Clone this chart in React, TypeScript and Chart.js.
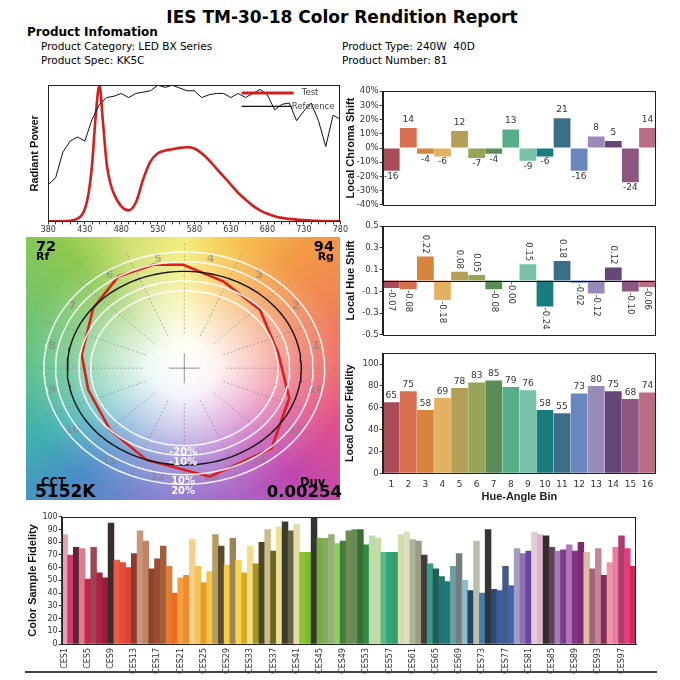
import React, { useEffect, useRef } from "react";
import { Chart, registerables } from "chart.js";

Chart.register(...registerables);
Chart.defaults.font.family = "'DejaVu Sans', sans-serif";
Chart.defaults.color = "#333";

// ---------------- data ----------------
const binLabels = ["1", "2", "3", "4", "5", "6", "7", "8", "9", "10", "11", "12", "13", "14", "15", "16"];
const binColors = [
  "#a84c58", "#d8704f", "#d7843c", "#e2b261", "#b39f55", "#97a457", "#5b8c57", "#55ae87",
  "#76c1a8", "#1a7c7c", "#3d6e88", "#6887bf", "#9a8ab8", "#664676", "#8d5581", "#ba6d84",
];
const chromaShift = [-16, 14, -4, -6, 12, -7, -4, 13, -9, -6, 21, -16, 8, 5, -24, 14];
const hueShift = [-0.07, -0.08, 0.22, -0.18, 0.08, 0.05, -0.08, -0.003, 0.15, -0.24, 0.18, -0.02, -0.12, 0.12, -0.1, -0.06];
const localFidelity = [65, 75, 58, 69, 78, 83, 85, 79, 76, 58, 55, 73, 80, 75, 68, 74];

const refWavelengths = [
  380, 390, 400, 410, 420, 430, 440, 450, 460, 470, 480, 490, 500, 510, 520, 530, 540, 550, 560, 570, 580,
  590, 600, 610, 620, 630, 640, 650, 660, 670, 680, 690, 700, 710, 720, 730, 740, 750, 760, 770, 780,
];
const refPower = [
  0.27, 0.32, 0.51, 0.59, 0.62, 0.59, 0.75, 0.86, 0.91, 0.92, 0.94, 0.91, 0.94, 0.95, 0.96, 1.0, 0.985, 1.0, 0.98, 0.96, 0.96,
  0.91, 0.93, 0.94, 0.94, 0.91, 0.94, 0.91, 0.94, 0.97, 0.93, 0.82, 0.86, 0.87, 0.74, 0.81, 0.87, 0.74, 0.55, 0.78, 0.75,
];
const testWavelengths = [
  380, 400, 410, 420, 425, 430, 435, 440, 445, 450, 455, 460, 465, 470, 480, 490, 500, 510, 520, 530, 540,
  550, 560, 570, 580, 590, 600, 610, 620, 630, 640, 650, 660, 670, 680, 690, 700, 720, 740, 760, 780,
];
const testPower = [
  0, 0, 0.003, 0.02, 0.04, 0.09, 0.2, 0.42, 0.78, 1.0, 0.72, 0.42, 0.28, 0.2, 0.11, 0.08, 0.14, 0.31, 0.44, 0.5, 0.52,
  0.53, 0.54, 0.545, 0.535, 0.5, 0.45, 0.39, 0.33, 0.27, 0.21, 0.16, 0.115, 0.08, 0.055, 0.037, 0.025, 0.012, 0.005, 0.002, 0,
];
const spectrumTickStart = 380;
const spectrumLabelStep = 50;

// colour vector graphic: test polygon vertices (normalised a', b')
const testX = [0.803, 0.647, 0.333, -0.009, -0.265, -0.564, -0.778, -0.877, -0.821, -0.635, -0.322, 0.219, 0.746, 0.897];
const testY = [0.155, 0.603, 0.897, 1.069, 1.069, 0.948, 0.621, 0.138, -0.224, -0.638, -0.948, -1.121, -0.828, -0.31];
const ringScales = [0.8, 0.9, 1.1, 1.2];
const ringLabels = ["-20%", "-10%", "10%", "20%"];
const hueAngles = [0, 45, 70, 90, 115, 135, 180, 205, 225, 260, 290, 315, 340, 360];
const hueColors = [
  "#ee6a6a", "#f29a45", "#f6c850", "#f4ec78", "#d0e070", "#8ec850", "#5cc08a", "#40b0b0",
  "#4a8cc8", "#8880d0", "#a868c8", "#c048b0", "#e0508a", "#ee6a6a",
];

const cesFidelity = [
  86, 70, 76, 75, 51, 76, 56, 52, 95, 66, 64, 60, 71, 89, 81, 59, 67, 77, 61, 40,
  52, 54, 82, 61, 48, 57, 86, 77, 62, 83, 66, 56, 77, 63, 80, 90, 73, 92, 96, 89,
  94, 72, 72, 99, 83, 83, 86, 79, 81, 89, 90, 90, 78, 85, 83, 72, 72, 72, 86, 88,
  82, 81, 70, 63, 59, 53, 49, 61, 71, 50, 42, 81, 40, 90, 43, 42, 61, 46, 75, 71,
  73, 88, 86, 85, 76, 73, 74, 78, 73, 80, 72, 59, 75, 54, 64, 76, 85, 75, 61,
];
const cesColors = [
  "#eaa0b4", "#d03c6c", "#5c2434", "#e07a8a", "#c0284c", "#a04454", "#aa2444", "#9c1c3c", "#3c2c2c", "#ec5c44",
  "#e44c3c", "#dc4434", "#8c3c2c", "#c8987c", "#c08464", "#8c442c", "#9c4c34", "#a0603c", "#e47c34", "#ec6c24",
  "#f4a040", "#f08c2c", "#f8d08c", "#f4c454", "#e49c24", "#f4c444", "#b49c64", "#5c4c2c", "#f4cc44", "#9c8454",
  "#f8d454", "#d4ac24", "#f4dc84", "#a49424", "#4c4424", "#ccbc8c", "#6c6424", "#ece094", "#3c3c2c", "#646444",
  "#e4dca4", "#8cc434", "#7cbc2c", "#343430", "#74ac44", "#84ac5c", "#9cac7c", "#8ccc64", "#447c3c", "#6c8c54",
  "#648c54", "#3c6c34", "#2c8c44", "#bcdcac", "#c4dca4", "#54bc84", "#34a474", "#349c6c", "#d4dcb4", "#dce0bc",
  "#acb49c", "#9c9c84", "#443c34", "#349c8c", "#245c54", "#247474", "#1c7c7c", "#6c9ca4", "#747c7c", "#8cbccc",
  "#244464", "#bcbcac", "#447cac", "#343434", "#2c4c74", "#3c5ca4", "#445c84", "#4464ac", "#a49cc4", "#8c74ac",
  "#6c44a4", "#e4ccd4", "#dcb4cc", "#342c2c", "#5c4454", "#a47cbc", "#7c3c8c", "#b474bc", "#843484", "#7c2c6c",
  "#dcbca4", "#a46474", "#c4849c", "#842c54", "#ec94ac", "#ec7c9c", "#ac3c6c", "#e43c7c", "#cc2c54",
];
const cesLabels = cesFidelity.map((_, i) => `CES${i + 1}`);

// ---------------- helpers ----------------
const TITLE_FONT = { family: "'Liberation Sans', Arial, sans-serif", weight: "bold" as const };

const framePlugin = {
  id: "frame",
  afterDatasetsDraw(chart: any) {
    const { ctx, chartArea: a } = chart;
    ctx.save();
    ctx.strokeStyle = "#222";
    ctx.lineWidth = 1;
    ctx.strokeRect(Math.round(a.left) + 0.5, Math.round(a.top) + 0.5, Math.round(a.right - a.left) - 1, Math.round(a.bottom - a.top));
    ctx.restore();
  },
};

function barLabels(fmt: (v: number) => string, font: string, rotated: boolean, gapPos: number, gapNeg: number) {
  return {
    id: "barLabels",
    afterDatasetsDraw(chart: any) {
      const ctx = chart.ctx;
      const meta = chart.getDatasetMeta(0);
      const vals = chart.data.datasets[0].data as number[];
      ctx.save();
      ctx.font = font;
      ctx.fillStyle = "#333";
      meta.data.forEach((bar: any, i: number) => {
        const v = vals[i];
        const neg = v < 0;
        const top = Math.min(bar.y, bar.base);
        const bottom = Math.max(bar.y, bar.base);
        const txt = fmt(v);
        if (rotated) {
          ctx.save();
          ctx.translate(bar.x, neg ? bottom + gapNeg : top - gapPos);
          ctx.rotate(Math.PI / 2);
          ctx.textAlign = neg ? "left" : "right";
          ctx.textBaseline = "middle";
          ctx.fillText(txt, 0, 0);
          ctx.restore();
        } else {
          ctx.textAlign = "center";
          ctx.textBaseline = neg ? "top" : "bottom";
          ctx.fillText(txt, bar.x, neg ? bottom + gapNeg : top - gapPos);
        }
      });
      ctx.restore();
    },
  };
}

const zeroLine = {
  id: "zeroLine",
  afterDatasetsDraw(chart: any) {
    const { ctx, chartArea: a } = chart;
    const y = Math.round(chart.scales.y.getPixelForValue(0)) + 0.5;
    ctx.save();
    ctx.strokeStyle = "#111";
    ctx.lineWidth = 1;
    ctx.beginPath();
    ctx.moveTo(a.left, y);
    ctx.lineTo(a.right, y);
    ctx.stroke();
    ctx.restore();
  },
};

const spectrumLegend = {
  id: "spectrumLegend",
  afterDatasetsDraw(chart: any) {
    const { ctx, chartArea: a } = chart;
    ctx.save();
    ctx.lineCap = "butt";
    ctx.strokeStyle = "#d41e1e";
    ctx.lineWidth = 3;
    ctx.beginPath();
    ctx.moveTo(a.right - 98.7, a.top + 7.7);
    ctx.lineTo(a.right - 46.7, a.top + 7.7);
    ctx.stroke();
    ctx.strokeStyle = "#111";
    ctx.lineWidth = 1.2;
    ctx.beginPath();
    ctx.moveTo(a.right - 98.7, a.top + 21);
    ctx.lineTo(a.right - 48.7, a.top + 21);
    ctx.stroke();
    ctx.font = "8.5px 'DejaVu Sans'";
    ctx.fillStyle = "#444";
    ctx.textBaseline = "middle";
    ctx.fillText("Test", a.right - 38.7, a.top + 7.7);
    ctx.fillText("Reference", a.right - 48.7, a.top + 21);
    ctx.restore();
  },
};

const cvgPlugin = {
  id: "cvg",
  beforeDatasetsDraw(chart: any) {
    const { ctx, width, height } = chart;
    const xs = chart.scales.x;
    const ys = chart.scales.y;
    const cx = xs.getPixelForValue(0);
    const cy = ys.getPixelForValue(0);
    const rx = xs.getPixelForValue(1) - cx;
    const ry = cy - ys.getPixelForValue(1);
    ctx.save();
    const g = ctx.createConicGradient(0, cx, cy);
    hueAngles.forEach((deg, i) => g.addColorStop(1 - deg / 360, hueColors[i]));
    ctx.fillStyle = g;
    ctx.fillRect(0, 0, width, height);
    ctx.translate(cx, cy);
    ctx.scale(rx, ry);
    const rg = ctx.createRadialGradient(0, 0, 0, 0, 0, 1.4);
    rg.addColorStop(0, "rgba(255,255,255,1)");
    rg.addColorStop(0.2, "rgba(255,255,255,0.92)");
    rg.addColorStop(0.45, "rgba(255,255,255,0.6)");
    rg.addColorStop(0.7, "rgba(255,255,255,0.22)");
    rg.addColorStop(1, "rgba(255,255,255,0)");
    ctx.fillStyle = rg;
    ctx.fillRect(-3, -3, 6, 6);
    ctx.restore();

    const P = (r: number, t: number) => [xs.getPixelForValue(r * Math.cos(t)), ys.getPixelForValue(r * Math.sin(t))];
    ctx.save();
    ctx.strokeStyle = "rgba(110,110,110,0.5)";
    ctx.lineWidth = 1;
    ctx.setLineDash([2, 2]);
    for (let k = 0; k < 16; k++) {
      const t = (k * 22.5 * Math.PI) / 180;
      const [x0, y0] = P(0.36, t);
      const [x1, y1] = P(1.3, t);
      ctx.beginPath();
      ctx.moveTo(x0, y0);
      ctx.lineTo(x1, y1);
      ctx.stroke();
    }
    ctx.setLineDash([]);
    ctx.strokeStyle = "rgba(120,120,120,0.8)";
    ctx.beginPath();
    ctx.moveTo(xs.getPixelForValue(-0.13), cy);
    ctx.lineTo(xs.getPixelForValue(0.13), cy);
    ctx.moveTo(cx, ys.getPixelForValue(0.155));
    ctx.lineTo(cx, ys.getPixelForValue(-0.155));
    ctx.stroke();
    ctx.font = "bold 11px 'DejaVu Sans'";
    ctx.fillStyle = "rgba(130,130,130,0.6)";
    ctx.textAlign = "center";
    ctx.textBaseline = "middle";
    binLabels.forEach((lab, j) => {
      const t = ((j + 0.5) * 22.5 * Math.PI) / 180;
      const [x, y] = P(1.15, t);
      ctx.fillText(lab, x, y);
    });
    ctx.restore();
  },
  afterDatasetsDraw(chart: any) {
    const { ctx } = chart;
    const xs = chart.scales.x;
    const ys = chart.scales.y;
    ctx.save();
    ctx.font = "bold 10px 'DejaVu Sans'";
    ctx.fillStyle = "rgba(255,255,255,0.95)";
    ctx.textAlign = "center";
    ctx.textBaseline = "middle";
    ringLabels.forEach((lab, i) => {
      ctx.fillText(lab, xs.getPixelForValue(-0.01), ys.getPixelForValue(-(ringScales[i] + 0.07)));
    });
    ctx.restore();
  },
};

function ellipsePoints(s: number) {
  const pts: { x: number; y: number }[] = [];
  for (let i = 0; i <= 180; i++) {
    const t = (i / 180) * Math.PI * 2;
    pts.push({ x: s * Math.cos(t), y: s * Math.sin(t) });
  }
  return pts;
}

const baseOpts = {
  animation: false,
  responsive: false,
  events: [] as string[],
};

// ---------------- chart configs ----------------
const spectrumConfig = (): any => ({
  type: "scatter",
  data: {
    datasets: [
      {
        data: refWavelengths.map((x, i) => ({ x, y: refPower[i] })),
        showLine: true,
        borderColor: "#111",
        borderWidth: 1,
        pointRadius: 0,
        tension: 0,
      },
      {
        data: testWavelengths.map((x, i) => ({ x, y: testPower[i] })),
        showLine: true,
        borderColor: "#d41e1e",
        borderWidth: 2.6,
        pointRadius: 0,
        cubicInterpolationMode: "monotone",
      },
    ],
  },
  options: {
    ...baseOpts,
    layout: { padding: { top: 5.3, right: 7.3, left: 0, bottom: 0 } },
    plugins: { legend: { display: false }, tooltip: { enabled: false } },
    scales: {
      x: {
        type: "linear",
        min: 380,
        max: 780,
        ticks: {
          stepSize: 10,
          autoSkip: false,
          maxRotation: 0,
          callback: (v: number) => ((v - spectrumTickStart) % spectrumLabelStep === 0 ? String(v) : ""),
          font: { size: 8 },
          color: "#333",
          padding: 1,
        },
        grid: { drawOnChartArea: false, tickLength: 3, color: "#333" },
        border: { color: "#222" },
        afterFit: (s: any) => {
          s.height = 15.7;
        },
      },
      y: {
        min: 0,
        max: 1,
        ticks: { display: false },
        grid: { display: false },
        border: { color: "#222" },
        title: { display: true, text: "Radiant Power", font: { ...TITLE_FONT, size: 11 }, color: "#111", padding: { top: 4, bottom: 0 } },
        afterFit: (s: any) => {
          s.width = 24.3;
        },
      },
    },
  },
  plugins: [framePlugin, spectrumLegend],
});

const cvgConfig = (): any => ({
  type: "scatter",
  data: {
    datasets: [
      ...ringScales.map((s) => ({
        data: ellipsePoints(s),
        showLine: true,
        borderColor: "rgba(255,255,255,0.9)",
        borderWidth: 1.5,
        pointRadius: 0,
      })),
      { data: ellipsePoints(1), showLine: true, borderColor: "#111", borderWidth: 1.4, pointRadius: 0 },
      {
        data: [...testX.map((x, i) => ({ x, y: testY[i] })), { x: testX[0], y: testY[0] }],
        showLine: true,
        borderColor: "#e01c1c",
        borderWidth: 2.6,
        pointRadius: 0,
      },
    ],
  },
  options: {
    ...baseOpts,
    layout: { padding: 0 },
    plugins: { legend: { display: false }, tooltip: { enabled: false } },
    scales: {
      x: { type: "linear", display: false, min: -1.353, max: 1.331 },
      y: { type: "linear", display: false, min: -1.362, max: 1.355 },
    },
  },
  plugins: [cvgPlugin],
});

function binBarConfig(opts: {
  values: number[];
  min: number;
  max: number;
  step: number;
  fmt: (v: number) => string;
  title: string;
  titleSize: number;
  padTop: number;
  padBottom: number;
  showX: boolean;
  labels: any;
  extra: any[];
}): any {
  return {
    type: "bar",
    data: {
      labels: binLabels,
      datasets: [{ data: opts.values, backgroundColor: binColors, barPercentage: 1, categoryPercentage: 0.98 }],
    },
    options: {
      ...baseOpts,
      layout: { padding: { top: opts.padTop, right: 6, left: 0, bottom: opts.padBottom } },
      plugins: { legend: { display: false }, tooltip: { enabled: false } },
      scales: {
        x: opts.showX
          ? {
              ticks: { font: { size: 9 }, color: "#333", padding: 6, autoSkip: false, maxRotation: 0, minRotation: 0 },
              grid: { display: false, drawTicks: false },
              border: { display: false },
              title: { display: true, text: "Hue-Angle Bin", font: { ...TITLE_FONT, size: 11 }, color: "#222", padding: { top: 0, bottom: 1 } },
              afterFit: (s: any) => {
                s.height = 31.7;
              },
            }
          : { display: false },
        y: {
          min: opts.min,
          max: opts.max,
          ticks: { stepSize: opts.step, callback: (v: number) => opts.fmt(v), font: { size: 8.5 }, color: "#333", padding: 1 },
          grid: { drawOnChartArea: false, tickLength: 3, color: "#333" },
          border: { color: "#222" },
          title: { display: true, text: opts.title, font: { ...TITLE_FONT, size: opts.titleSize }, color: "#111", padding: { top: 4, bottom: 0 } },
          afterFit: (s: any) => {
            s.width = 42.7;
          },
        },
      },
    },
    plugins: [framePlugin, opts.labels, ...opts.extra],
  };
}

const chromaConfig = () =>
  binBarConfig({
    values: chromaShift,
    min: -40,
    max: 40,
    step: 10,
    fmt: (v) => `${v}%`,
    title: "Local Chroma Shift",
    titleSize: 11,
    padTop: 6,
    padBottom: 4,
    showX: false,
    labels: barLabels((v) => String(v), "9px 'DejaVu Sans'", false, 4, 1),
    extra: [],
  });

const hueConfig = () =>
  binBarConfig({
    values: hueShift,
    min: -0.5,
    max: 0.5,
    step: 0.1,
    fmt: (v) => Number(v).toFixed(1),
    title: "Local Hue Shift",
    titleSize: 11,
    padTop: 6,
    padBottom: 3.7,
    showX: false,
    labels: barLabels((v) => v.toFixed(2), "8.5px 'DejaVu Sans'", true, 3, 1),
    extra: [zeroLine],
  });

const fidelityConfig = () =>
  binBarConfig({
    values: localFidelity,
    min: 0,
    max: 110,
    step: 10,
    fmt: (v) => (v > 100 ? "" : String(v)),
    title: "Local Color Fidelity",
    titleSize: 10.5,
    padTop: 5.3,
    padBottom: 0,
    showX: true,
    labels: barLabels((v) => String(v), "9px 'DejaVu Sans'", false, 2, 1),
    extra: [],
  });

const cesConfig = (): any => ({
  type: "bar",
  data: {
    labels: cesLabels,
    datasets: [{ data: cesFidelity, backgroundColor: cesColors, barPercentage: 1, categoryPercentage: 1 }],
  },
  options: {
    ...baseOpts,
    layout: { padding: { top: 5.7, right: 29, left: 0, bottom: 0 } },
    plugins: { legend: { display: false }, tooltip: { enabled: false } },
    scales: {
      x: {
        ticks: {
          autoSkip: false,
          minRotation: 90,
          maxRotation: 90,
          font: { size: 8 },
          color: "#333",
          padding: 4,
          callback: (_v: any, i: number) => (i % 4 === 0 ? cesLabels[i] : ""),
        },
        grid: { display: false, drawTicks: false },
        border: { color: "#222" },
        afterFit: (s: any) => {
          s.height = 32;
        },
      },
      y: {
        min: 0,
        max: 100,
        ticks: { stepSize: 10, font: { size: 8 }, color: "#333", padding: 1 },
        grid: { drawOnChartArea: false, tickLength: 3, color: "#333" },
        border: { color: "#222" },
        title: { display: true, text: "Color Sample Fidelity", font: { ...TITLE_FONT, size: 11 }, color: "#111", padding: { top: 6, bottom: 0 } },
        afterFit: (s: any) => {
          s.width = 41.7;
        },
      },
    },
  },
  plugins: [framePlugin],
});

// ---------------- components ----------------
function ChartCanvas({ x, y, w, h, build }: { x: number; y: number; w: number; h: number; build: () => any }) {
  const ref = useRef<HTMLCanvasElement | null>(null);
  useEffect(() => {
    if (!ref.current) return;
    const chart = new Chart(ref.current, build());
    return () => chart.destroy();
  }, []);
  return <canvas ref={ref} width={w} height={h} style={{ position: "absolute", left: x, top: y, width: w, height: h }} />;
}

function Txt({ x, y, size, bold, children, right, lh }: { x: number; y: number; size: number; bold?: boolean; children: any; right?: boolean; lh?: number }) {
  const lineH = lh ?? Math.round(size * 1.2);
  const style: any = {
    position: "absolute",
    top: y - lineH / 2,
    fontSize: size,
    lineHeight: `${lineH}px`,
    fontWeight: bold ? "bold" : "normal",
    whiteSpace: "nowrap",
    fontFamily: "'DejaVu Sans', sans-serif",
    color: "#000",
  };
  if (right) style.right = 680 - x;
  else style.left = x;
  return <div style={style}>{children}</div>;
}

export default function App() {
  return (
    <div style={{ position: "absolute", left: 0, top: 0, width: 680, height: 680, background: "#fff", overflow: "hidden" }}>
      <div
        style={{
          position: "absolute",
          left: 0,
          width: 684,
          top: 7,
          textAlign: "center",
          fontFamily: "'DejaVu Sans', sans-serif",
          fontWeight: "bold",
          fontSize: 17,
          lineHeight: "20px",
          color: "#000",
        }}
      >
        IES TM-30-18 Color Rendition Report
      </div>
      <Txt x={27} y={32} size={12} bold>
        Product Infomation
      </Txt>
      <Txt x={41} y={46} size={10.5}>
        Product Category: LED BX Series
      </Txt>
      <Txt x={41} y={60} size={10.5}>
        Product Spec: KK5C
      </Txt>
      <Txt x={342} y={46} size={10.5}>
        Product Type: 240W&nbsp;&nbsp;40D
      </Txt>
      <Txt x={342} y={60} size={10.5}>
        Product Number: 81
      </Txt>

      <ChartCanvas x={24} y={80} w={325} h={157} build={spectrumConfig} />
      <ChartCanvas x={26} y={237} w={314} h={263} build={cvgConfig} />
      <ChartCanvas x={340} y={85} w={322} h={126} build={chromaConfig} />
      <ChartCanvas x={340} y={220} w={322} h={121} build={hueConfig} />
      <ChartCanvas x={340} y={347} w={322} h={158} build={fidelityConfig} />
      <ChartCanvas x={20} y={511} w={645} h={165} build={cesConfig} />

      <Txt x={36} y={246.5} size={14.5} bold lh={15}>
        72
      </Txt>
      <Txt x={36} y={256.8} size={11} bold lh={11}>
        Rf
      </Txt>
      <Txt x={334} y={246.5} size={14.5} bold lh={15} right>
        94
      </Txt>
      <Txt x={334} y={256.8} size={11} bold lh={11} right>
        Rg
      </Txt>
      <Txt x={41} y={481.5} size={11.5} bold lh={12}>
        CCT
      </Txt>
      <Txt x={35} y={491.5} size={17} bold lh={17}>
        5152K
      </Txt>
      <Txt x={300} y={481.5} size={11.5} bold lh={12}>
        Duv
      </Txt>
      <Txt x={342} y={491.5} size={16.5} bold lh={17} right>
        0.00254
      </Txt>

      <div style={{ position: "absolute", left: 25, top: 671, width: 632, height: 1.5, background: "#444" }} />
    </div>
  );
}
